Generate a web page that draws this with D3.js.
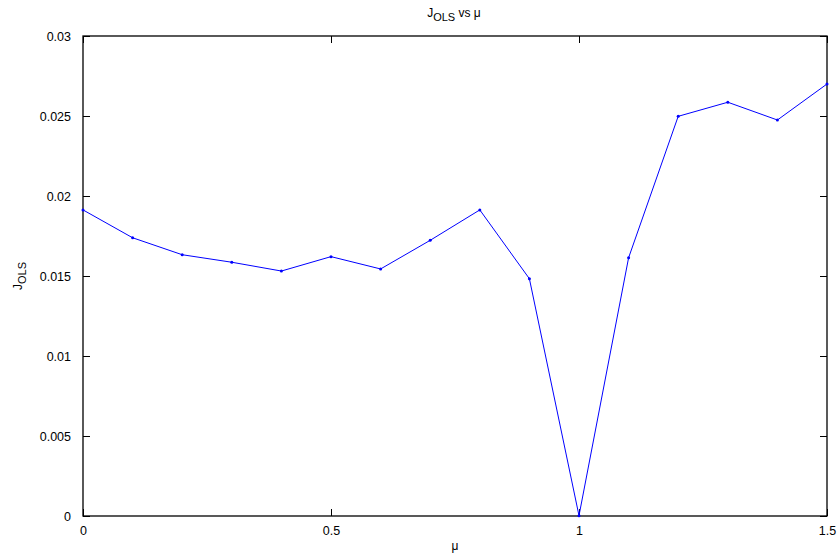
<!DOCTYPE html>
<html>
<head>
<meta charset="utf-8">
<script src="https://cdn.jsdelivr.net/npm/d3@7"></script>
<style>
body { margin: 0; background: #fff; }
text { font-family: "Liberation Sans", Arial, sans-serif; font-size: 12px; fill: #000; }
</style>
</head>
<body>
<div id="chart"></div>
<script>
// data
var mu = [0, 0.1, 0.2, 0.3, 0.4, 0.5, 0.6, 0.7, 0.8, 0.9, 1.0, 1.1, 1.2, 1.3, 1.4, 1.5];
var jols = [0.01913, 0.01739, 0.01633, 0.01586, 0.01531, 0.01621, 0.01544, 0.01723, 0.01913, 0.01483, 0.00002, 0.01614, 0.02498, 0.02586, 0.02475, 0.02700];
var xTicks = [0, 0.5, 1, 1.5];
var yTicks = [0, 0.005, 0.01, 0.015, 0.02, 0.025, 0.03];

var w = 840, h = 560;
var plotL = 83, plotR = 827, plotT = 36, plotB = 516;
var tickLen = 7;

var svg = d3.select('#chart').append('svg').attr('width', w).attr('height', h);

var x = d3.scaleLinear().domain([0, 1.5]).range([plotL, plotR]);
var y = d3.scaleLinear().domain([0, 0.03]).range([plotB, plotT]);

//bottom + left axes, ticks pointing inward
svg.append('g').attr('transform', 'translate(0,' + plotB + ')')
	.call(d3.axisBottom(x).tickValues(xTicks).tickSizeInner(-tickLen).tickSizeOuter(0).tickPadding(tickLen + 3).tickFormat(d3.format('')))
	.call(function(g){ g.select('.domain').remove(); });
svg.append('g').attr('transform', 'translate(' + plotL + ',0)')
	.call(d3.axisLeft(y).tickValues(yTicks).tickSizeInner(-tickLen).tickSizeOuter(0).tickPadding(tickLen + 5).tickFormat(d3.format('')))
	.call(function(g){ g.select('.domain').remove(); });
//mirrored ticks on top + right, no labels
svg.append('g').attr('transform', 'translate(0,' + plotT + ')')
	.call(d3.axisTop(x).tickValues(xTicks).tickSizeInner(-tickLen).tickSizeOuter(0).tickFormat(''))
	.call(function(g){ g.select('.domain').remove(); });
svg.append('g').attr('transform', 'translate(' + plotR + ',0)')
	.call(d3.axisRight(y).tickValues(yTicks).tickSizeInner(-tickLen).tickSizeOuter(0).tickFormat(''))
	.call(function(g){ g.select('.domain').remove(); });
svg.selectAll('.tick line').attr('stroke', '#000');
svg.selectAll('.tick text').style('font-family', '"Liberation Sans", Arial, sans-serif').style('font-size', '12.5px');

//box
svg.append('rect')
	.attr('x', plotL).attr('y', plotT)
	.attr('width', plotR - plotL).attr('height', plotB - plotT)
	.attr('fill', 'none').attr('stroke', '#000').attr('stroke-width', 1.3);

//the line
var pts = mu.map(function(m, i){ return [m, jols[i]]; });
svg.append('path')
	.datum(pts)
	.attr('fill', 'none')
	.attr('stroke', '#0000ff')
	.attr('stroke-width', 1)
	.attr('d', d3.line().x(function(d){ return x(d[0]); }).y(function(d){ return y(d[1]); }));
svg.selectAll('circle.pt')
	.data(pts)
	.enter().append('circle')
	.attr('class', 'pt')
	.attr('cx', function(d){ return x(d[0]); })
	.attr('cy', function(d){ return y(d[1]); })
	.attr('r', 1.5)
	.attr('fill', '#0000ff');

//title
var title = svg.append('text').attr('x', 454).attr('y', 17).attr('text-anchor', 'middle');
title.append('tspan').text('J');
title.append('tspan').attr('dy', 4).style('font-size', '11px').text('OLS');
title.append('tspan').attr('dy', -4).text(' vs \u03bc');

//x label
svg.append('text').attr('x', 455).attr('y', 550).attr('text-anchor', 'middle').text('\u03bc');

//y label
var ylab = svg.append('text').attr('transform', 'translate(22,276) rotate(-90)').attr('text-anchor', 'middle');
ylab.append('tspan').text('J');
ylab.append('tspan').attr('dy', 4).style('font-size', '11px').text('OLS');
</script>
</body>
</html>
